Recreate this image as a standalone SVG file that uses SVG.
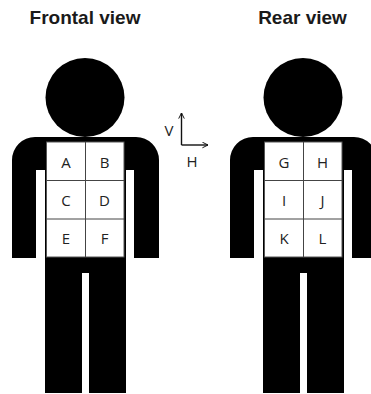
<svg xmlns="http://www.w3.org/2000/svg" width="371" height="394" viewBox="0 0 371 394">
  <style>
    .title { font-family: "Liberation Sans", Arial, sans-serif; font-weight: bold; font-size: 19px; fill: #1a1a1a; text-anchor: middle; }
    .cell { font-family: "Open Sans", "DejaVu Sans", sans-serif; font-size: 15px; fill: #222; text-anchor: middle; }
    .axis-label { font-family: "Open Sans", "DejaVu Sans", sans-serif; font-size: 15px; fill: #222; text-anchor: middle; }
    .body { fill: #000; }
    .panel { fill: #fff; stroke: #555; stroke-width: 1; }
    .grid { stroke: #444; stroke-width: 1; fill: none; }
    .axis { stroke: #111; stroke-width: 1.4; fill: none; }
  </style>
  <defs>
    <marker id="arrow" viewBox="0 0 10 10" refX="9" refY="5" markerWidth="7" markerHeight="7" orient="auto" markerUnits="userSpaceOnUse">
      <path d="M1,1 L9,5 L1,9" fill="none" stroke="#111" stroke-width="1.4"/>
    </marker>
    <!-- silhouette: head, shoulders, arms, torso, legs -->
    <g id="figure-shape">
      <circle class="body" cx="85" cy="97.5" r="39.5"/>
      <path class="body" d="M12,258 L12,160 A23,23 0 0 1 35,137 L136,137 A23,23 0 0 1 159,160 L159,258 L134,258 L134,170 L126,170 L126,393 L89,393 L89,273 L82,273 L82,393 L45,393 L45,170 L36,170 L36,258 Z"/>
      <rect class="panel" x="46.5" y="142" width="77.5" height="115"/>
      <path class="grid" d="M85.5,142 V257 M46.5,180.5 H124 M46.5,219 H124"/>
    </g>
  </defs>

  <g id="title-front"><text class="title" x="85" y="24">Frontal view</text></g>
  <g id="title-rear"><text class="title" x="302.5" y="24">Rear view</text></g>

  <g id="figure-front">
    <use href="#figure-shape"/>
    <g id="cell-A"><text class="cell" x="66" y="167.5">A</text></g>
    <g id="cell-B"><text class="cell" x="104.5" y="167.5">B</text></g>
    <g id="cell-C"><text class="cell" x="66" y="205.5">C</text></g>
    <g id="cell-D"><text class="cell" x="104.5" y="205.5">D</text></g>
    <g id="cell-E"><text class="cell" x="66" y="244">E</text></g>
    <g id="cell-F"><text class="cell" x="104.5" y="244">F</text></g>
  </g>

  <g id="figure-rear">
    <use href="#figure-shape" transform="translate(218,0)"/>
    <g id="cell-G"><text class="cell" x="284" y="167.5">G</text></g>
    <g id="cell-H"><text class="cell" x="322.5" y="167.5">H</text></g>
    <g id="cell-I"><text class="cell" x="284" y="205.5">I</text></g>
    <g id="cell-J"><text class="cell" x="322.5" y="205.5">J</text></g>
    <g id="cell-K"><text class="cell" x="284" y="244">K</text></g>
    <g id="cell-L"><text class="cell" x="322.5" y="244">L</text></g>
  </g>

  <!-- orientation axes -->
  <g id="connectors">
    <path class="axis" d="M181.5,145 V113" marker-end="url(#arrow)"/>
    <path class="axis" d="M181.5,145 H208" marker-end="url(#arrow)"/>
  </g>
  <g id="axis-labels">
    <text class="axis-label" x="169" y="136">V</text>
    <text class="axis-label" x="192" y="167">H</text>
  </g>
</svg>
